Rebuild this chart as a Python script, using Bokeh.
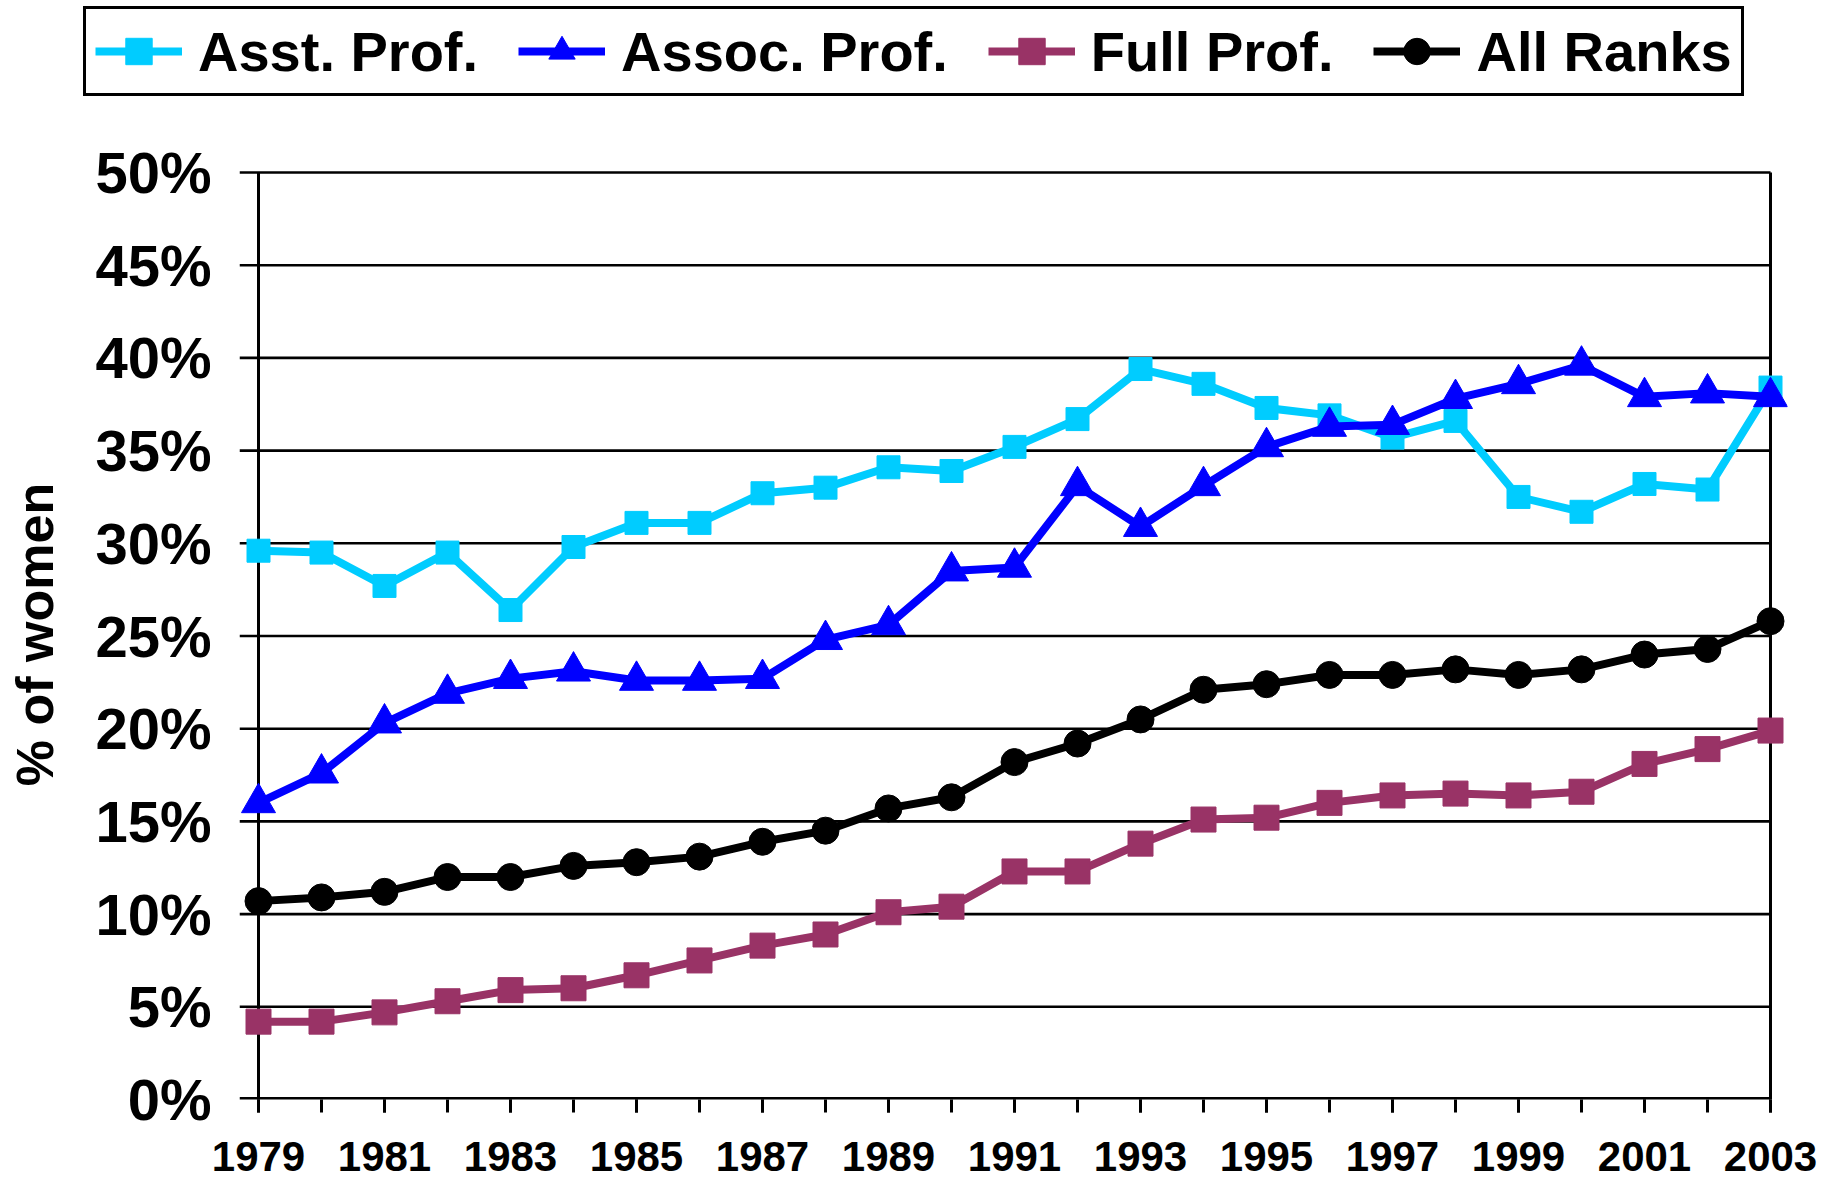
from bokeh.plotting import figure
from bokeh.layouts import column
from bokeh.models import Range1d, FixedTicker, Legend, LegendItem
from bokeh.embed import file_html
from bokeh.resources import INLINE

# ---------------- data ----------------
years = list(range(1979, 2004))
asst = [29.6, 29.5, 27.7, 29.5, 26.4, 29.8, 31.1, 31.1, 32.7, 33.0, 34.1, 33.9, 35.2,
        36.7, 39.4, 38.6, 37.3, 36.9, 35.7, 36.6, 32.5, 31.7, 33.2, 32.9, 38.4]
assoc = [16.0, 17.6, 20.3, 21.9, 22.7, 23.1, 22.6, 22.6, 22.7, 24.8, 25.6, 28.5, 28.7,
         33.1, 30.9, 33.1, 35.2, 36.3, 36.4, 37.8, 38.6, 39.6, 37.9, 38.1, 37.9]
full = [4.2, 4.2, 4.7, 5.3, 5.9, 6.0, 6.7, 7.5, 8.3, 8.9, 10.1, 10.4, 12.3,
        12.3, 13.8, 15.1, 15.2, 16.0, 16.4, 16.5, 16.4, 16.6, 18.1, 18.9, 19.9]
all_ranks = [10.7, 10.9, 11.2, 12.0, 12.0, 12.6, 12.8, 13.1, 13.9, 14.5, 15.7, 16.3, 18.2,
             19.2, 20.5, 22.1, 22.4, 22.9, 22.9, 23.2, 22.9, 23.2, 24.0, 24.3, 25.8]
series_names = ["Asst. Prof.", "Assoc. Prof.", "Full Prof.", "All Ranks"]
y_ticks = [0, 5, 10, 15, 20, 25, 30, 35, 40, 45, 50]
y_tick_labels = ["0%", "5%", "10%", "15%", "20%", "25%", "30%", "35%", "40%", "45%", "50%"]
x_label_years = years[::2]
x_tick_labels = [str(y) for y in x_label_years]
y_axis_title = "% of women"

# ---------------- styles ----------------
FONT = "Liberation Sans"
colors = ["#00CCFF", "#0000FF", "#993366", "#000000"]
markers = ["square", "triangle", "square", "circle"]
sizes = [23, 34, 25, 27]
series = [asst, assoc, full, all_ranks]

TOTAL_W = 1821
LEG_H = 130
PX_PER_YEAR = 63.0
PX_PER_PCT = 18.54
PAD_L, PAD_R, PAD_T, PAD_B = 19, 17, 3, 0
LEFT = 239

x_start = years[0] - PAD_L / PX_PER_YEAR
x_end = years[-1] + PAD_R / PX_PER_YEAR
y_start = y_ticks[0] - PAD_B / PX_PER_PCT
y_end = y_ticks[-1] + PAD_T / PX_PER_PCT
frame_w = int(round((years[-1] - years[0]) * PX_PER_YEAR + PAD_L + PAD_R))
frame_h = int(round((y_ticks[-1] - y_ticks[0]) * PX_PER_PCT + PAD_T + PAD_B))

# ---------------- main chart ----------------
p = figure(frame_width=frame_w, frame_height=frame_h,
           x_range=Range1d(x_start, x_end), y_range=Range1d(y_start, y_end),
           min_border_left=LEFT, min_border_right=TOTAL_W - LEFT - frame_w,
           min_border_top=39, min_border_bottom=82,
           output_backend="svg", toolbar_location=None)
p.frame_align = False
p.background_fill_color = "white"
p.border_fill_color = "white"
p.outline_line_color = None
p.xgrid.visible = False
p.ygrid.visible = False

# horizontal gridlines (extend left to form the tick marks); bottom one drawn wider (half clipped)
n = len(y_ticks)
grid_w = [5.2] + [2.6] * (n - 1)
p.segment(x0=[x_start] * n, y0=y_ticks, x1=[years[-1]] * n, y1=y_ticks,
          line_color="black", line_width=grid_w)
# vertical borders at first and last year
p.segment(x0=[years[0], years[-1]], y0=[y_ticks[0]] * 2, x1=[years[0], years[-1]],
          y1=[y_ticks[-1]] * 2, line_color="black", line_width=3)

for vals, c, m, s in zip(series, colors, markers, sizes):
    p.line(years, vals, line_color=c, line_width=8, line_join="round")
    p.scatter(years, vals, marker=m, size=s, fill_color=c, line_color=c)

# y axis
ya = p.yaxis[0]
ya.ticker = FixedTicker(ticks=y_ticks)
ya.major_label_overrides = dict(zip(y_ticks, y_tick_labels))
ya.major_tick_out = 0
ya.major_tick_in = 0
ya.minor_tick_out = 0
ya.minor_tick_in = 0
ya.axis_line_color = None
ya.major_label_standoff = 28
ya.major_label_text_font = FONT
ya.major_label_text_font_style = "bold"
ya.major_label_text_font_size = "58px"
ya.major_label_text_color = "black"
ya.axis_label = y_axis_title
ya.axis_label_standoff = 28
ya.axis_label_text_font = FONT
ya.axis_label_text_font_style = "bold"
ya.axis_label_text_font_size = "52px"
ya.axis_label_text_color = "black"

# x axis
xa = p.xaxis[0]
xa.ticker = FixedTicker(ticks=x_label_years, minor_ticks=years)
xa.major_label_overrides = dict(zip(x_label_years, x_tick_labels))
xa.axis_line_color = None
xa.major_tick_in = 0
xa.major_tick_out = 13
xa.minor_tick_in = 0
xa.minor_tick_out = 13
xa.major_tick_line_width = 3
xa.minor_tick_line_width = 3
xa.major_tick_line_color = "black"
xa.minor_tick_line_color = "black"
xa.major_label_standoff = 29
xa.major_label_text_font = FONT
xa.major_label_text_font_style = "bold"
xa.major_label_text_font_size = "42px"
xa.major_label_text_color = "black"

# ---------------- legend strip (same series, kept outside its visible range) ----------------
lf = figure(width=TOTAL_W, height=LEG_H, x_range=Range1d(years[0], years[-1]),
            y_range=Range1d(1000, 1001), min_border=0,
            output_backend="svg", toolbar_location=None)
lf.frame_align = False
lf.axis.visible = False
lf.grid.visible = False
lf.outline_line_color = None
lf.background_fill_color = "white"
lf.border_fill_color = "white"
items = []
for name, vals, c, m, s in zip(series_names, series, colors, markers, sizes):
    r1 = lf.line(years, vals, line_color=c, line_width=8)
    r2 = lf.scatter(years, vals, marker=m, size=s, fill_color=c, line_color=c)
    items.append(LegendItem(label=name, renderers=[r1, r2]))

legend = Legend(items=items, orientation="horizontal", location=(83, LEG_H - 96),
                glyph_width=87, glyph_height=66, label_standoff=16, spacing=40, padding=9,
                label_text_font=FONT, label_text_font_style="bold", label_text_font_size="56px",
                label_text_color="black", border_line_color="black", border_line_width=3,
                border_line_alpha=1.0,
                background_fill_color="white", background_fill_alpha=1.0, margin=0)
lf.add_layout(legend, "center")

layout = column(lf, p, spacing=0)
open("out.html", "w").write(file_html(layout, INLINE))
